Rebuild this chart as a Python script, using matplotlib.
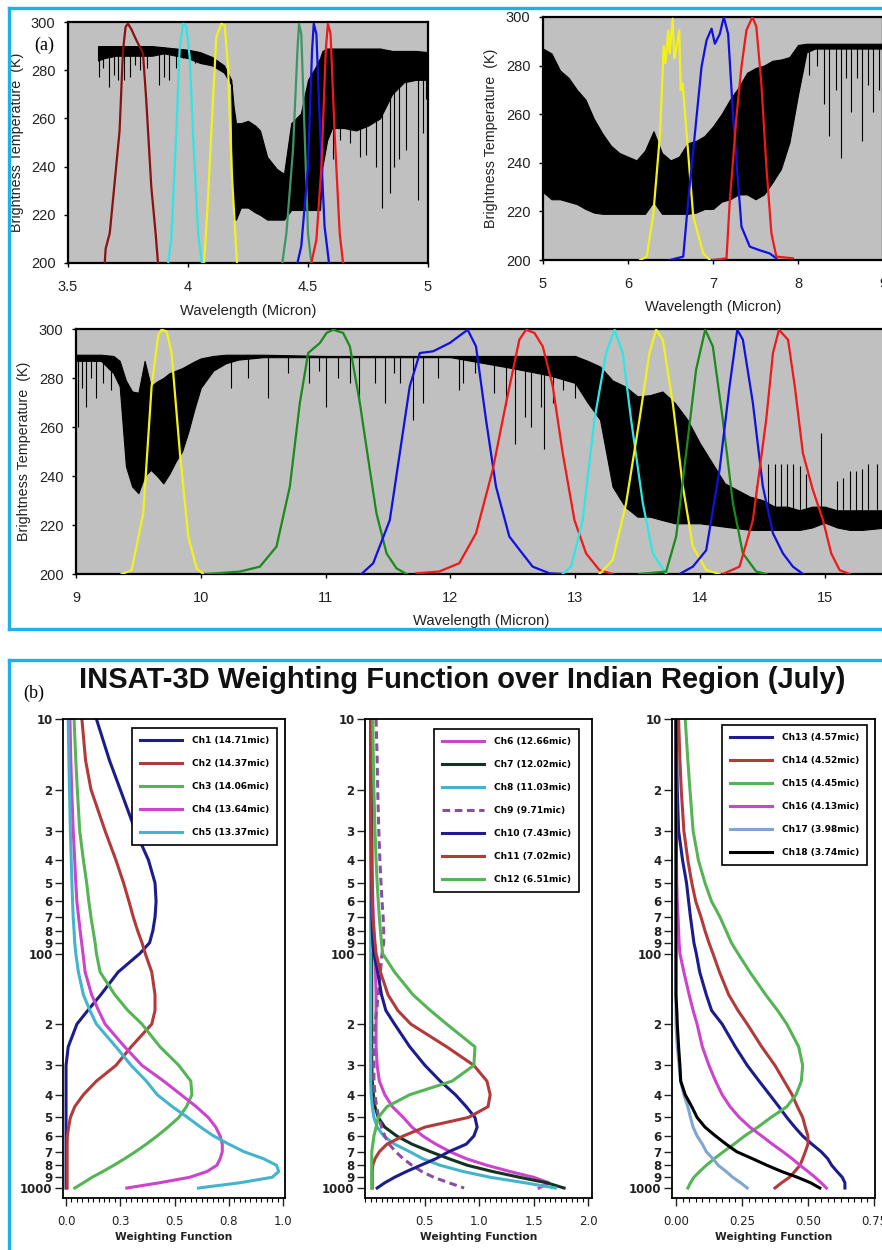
import numpy as np
import matplotlib

matplotlib.use("Agg")
import matplotlib.pyplot as plt
from matplotlib.lines import Line2D
from matplotlib.ticker import FixedLocator, MultipleLocator, NullLocator

plt.rcParams["font.family"] = ["Liberation Sans", "DejaVu Sans"]

W, H = 882, 1250

# ---------------- (a) brightness temperature spectra ----------------
a1_wl = [3.625, 3.65, 3.7, 3.75, 3.8, 3.85, 3.9, 3.95, 4.0, 4.05, 4.1, 4.15, 4.18, 4.19,
         4.2, 4.22, 4.25, 4.28, 4.3, 4.33, 4.37, 4.4, 4.43, 4.47, 4.5, 4.53, 4.55, 4.56,
         4.58, 4.6, 4.65, 4.7, 4.75, 4.8, 4.85, 4.9, 4.95, 5.0]
a1_hi = [290, 290, 290, 290, 290, 290, 289.5, 289, 288.5, 287.5, 285.5, 282, 276, 265,
         258, 258, 259, 257, 255, 244, 239, 237, 258, 262, 276, 281, 285, 288,
         289, 289, 289, 289, 289, 289, 288, 288, 288, 287.5]
a1_lo = [284, 285, 286, 286, 286, 286, 287, 286, 285, 283, 282, 279, 274, 218,
         218, 223, 223, 221, 220, 218, 218, 218, 222, 222, 222, 222, 222, 240,
         251, 256, 256, 255, 257, 260, 270, 275, 276, 276]
a1_dip_wl = [3.63, 3.645, 3.67, 3.69, 3.71, 3.735, 3.76, 3.78, 3.8, 3.83, 3.88, 3.9, 3.92,
             3.95, 3.98, 4.03, 4.06, 4.1, 4.604, 4.632, 4.674, 4.715, 4.743, 4.785, 4.81,
             4.84, 4.86, 4.88, 4.91, 4.958, 4.979, 4.99]
a1_dip_bt = [277, 281, 273, 278, 276, 276, 277, 282, 280, 281, 274, 277, 276,
             281, 285, 283, 284, 282, 243, 251, 250, 244, 245, 240, 223,
             229, 240, 243, 247, 226, 254, 268]

a2_wl = [5.0, 5.1, 5.2, 5.3, 5.4, 5.5, 5.6, 5.7, 5.8, 5.9, 6.0, 6.1, 6.2, 6.3, 6.4, 6.5,
         6.6, 6.7, 6.8, 6.9, 7.0, 7.1, 7.2, 7.3, 7.4, 7.5, 7.6, 7.7, 7.8, 7.9, 8.0, 8.1,
         8.2, 8.5, 9.0]
a2_hi = [287, 285, 278, 275, 270, 266, 258, 252, 247, 244, 242.5, 241, 245, 253, 244, 241,
         242.5, 248, 249, 251, 255, 260, 266, 271, 277, 279, 280, 282, 282.5, 283.5, 288.5, 289,
         289, 289, 289]
a2_lo = [228, 225, 225, 224, 223, 221, 219.5, 219, 219, 219, 219, 219, 219, 224, 219, 219,
         219, 219, 219.5, 221, 221, 224, 225, 227, 227, 225, 227, 232, 237.5, 248.5, 268, 285.5,
         287, 287, 287]
a2_dip_wl = [8.13, 8.22, 8.3, 8.37, 8.45, 8.5, 8.57, 8.62, 8.7, 8.75, 8.82, 8.88, 8.95]
a2_dip_bt = [276, 280, 264, 251, 270, 242, 275, 261, 275, 249, 272, 261, 270]

a3_wl = [9.0, 9.1, 9.2, 9.3, 9.35, 9.4, 9.45, 9.5, 9.55, 9.6, 9.65, 9.7, 9.75, 9.8, 9.85,
         9.9, 9.95, 10.0, 10.1, 10.2, 10.3, 10.5, 11.0, 11.5, 12.0, 12.5, 12.8, 13.0, 13.1,
         13.2, 13.3, 13.4, 13.5, 13.6, 13.7, 13.8, 13.9, 14.0, 14.1, 14.2, 14.3, 14.4, 14.5,
         14.6, 14.7, 14.8, 14.9, 15.0, 15.1, 15.2, 15.3, 15.5]
a3_hi = [289.5, 289.5, 289.5, 289, 287, 279, 274.5, 274, 287, 276.6, 278.6, 280, 282, 283, 284,
         285.4, 286.8, 288, 289, 289.5, 289.5, 289.5, 289, 289, 289, 289, 289, 289, 287,
         284.7, 279, 276.6, 272.5, 273, 274.5, 269.8, 263, 253.4, 245.2, 237, 234.3, 231.6, 230.2,
         227.5, 227.5, 226, 227.5, 227.5, 226, 226, 226, 226]
a3_lo = [287, 287, 287, 282, 276.6, 244, 235.7, 233, 240, 242.5, 240, 237, 241, 246, 250,
         258, 267.5, 276, 283, 286, 287.5, 288.5, 288.5, 288.5, 288.5, 284, 281, 278, 270,
         263, 235.7, 227.5, 223.4, 223.4, 222, 220.7, 220.7, 220.7, 220, 219.3, 218.7, 218, 218,
         218, 218, 218, 219, 221, 219, 218, 218, 219]
a3_dip_wl = [9.02, 9.05, 9.08, 9.12, 9.16, 9.22, 9.28, 10.24, 10.38, 10.54, 10.7, 10.87,
             10.95, 11.0, 11.1, 11.2, 11.27, 11.4, 11.48, 11.55, 11.6, 11.7, 11.78, 11.9,
             12.07, 12.1, 12.2, 12.35, 12.45, 12.52, 12.6, 12.65, 12.73, 12.75, 12.82, 12.9, 13.0]
a3_dip_bt = [260, 276, 268, 280, 272, 278, 275, 276, 280, 272, 282, 278,
             283, 268, 280, 278, 270, 278, 270, 282, 278, 263, 270, 280,
             275, 278, 282, 274, 269, 253, 264, 260, 268, 251, 270, 275, 272]
a3_peak_wl = [14.45, 14.55, 14.6, 14.65, 14.7, 14.75, 14.8, 14.85, 14.97, 15.1, 15.15,
              15.2, 15.25, 15.3, 15.35, 15.42]
a3_peak_bt = [236, 245, 245, 245, 245, 245, 244, 241, 257.5, 238, 239, 242, 242, 243, 245, 245]

# channel response curves, scaled onto the 200-300 K axis
srf_a1 = [
    ("#8b1010", [3.653, 3.657, 3.674, 3.694, 3.715, 3.729, 3.74, 3.75, 3.764, 3.785, 3.799,
                 3.8125, 3.826, 3.847, 3.865, 3.875],
                [200, 206, 212.4, 233, 255, 288, 298, 299.3, 297, 292.4, 289.7, 287, 267.6,
                 231.7, 212.4, 200]),
    ("#2ee6e6", [3.917, 3.93, 3.951, 3.965, 3.979, 3.993, 4.007, 4.021, 4.042, 4.058],
                [200, 209.7, 253.8, 288.3, 299.3, 298, 285.5, 253.8, 212.4, 200]),
    ("#f2f21a", [4.067, 4.083, 4.104, 4.118, 4.139, 4.153, 4.167, 4.181, 4.204],
                [200, 226, 267.6, 293.8, 299.3, 298.6, 281.4, 240, 200]),
    ("#3d9466", [4.393, 4.41, 4.4375, 4.456, 4.4625, 4.472, 4.486, 4.5, 4.514],
                [200, 212.4, 246.9, 288.3, 299.3, 295, 253.8, 212.4, 200]),
    ("#1010e0", [4.456, 4.472, 4.5, 4.517, 4.524, 4.535, 4.551, 4.569, 4.5875],
                [200, 207, 240, 288.3, 299.3, 295, 253.8, 215.2, 200]),
    ("#f01818", [4.514, 4.535, 4.556, 4.574, 4.583, 4.594, 4.611, 4.632, 4.646],
                [200, 209.7, 240, 288.3, 299.3, 295, 253.8, 212.4, 200]),
]
srf_a2 = [
    ("#f2f21a", [6.142, 6.22, 6.298, 6.377, 6.42, 6.44, 6.474, 6.49, 6.525, 6.545, 6.564,
                 6.603, 6.62, 6.643, 6.69, 6.767, 6.885, 6.963],
                [200, 201.4, 219, 252, 288, 281, 294.5, 285, 299.3, 283, 286.3,
                 294.5, 270, 272.6, 252, 218, 202.7, 200]),
    ("#1010e0", [6.494, 6.65, 6.709, 6.768, 6.826, 6.865, 6.924, 6.983, 7.022, 7.08, 7.127,
                 7.178, 7.237, 7.296, 7.335, 7.433, 7.55, 7.667, 7.745],
                [200, 201.4, 224.7, 245.2, 265.8, 279.5, 290.4, 295.2, 289, 293, 300,
                 293, 259, 231.5, 213.7, 205.5, 204, 202.7, 200.7]),
    ("#f01818", [7.0, 7.159, 7.198, 7.229, 7.276, 7.335, 7.393, 7.464, 7.51, 7.569, 7.628,
                 7.687, 7.745, 7.94],
                [200, 200.7, 224.7, 238, 259, 279.5, 294.5, 300, 296, 272.6, 238.4,
                 211, 201.4, 200.7]),
]
srf_a3 = [
    ("#f2f21a", [9.366, 9.446, 9.539, 9.606, 9.66, 9.686, 9.726, 9.766, 9.833, 9.9, 9.967, 10.02],
                [200, 201.6, 224.8, 276.6, 297.7, 299.7, 299, 290.2, 249.3, 215.3, 202.3, 200]),
    ("#1a8a1a", [10.047, 10.314, 10.474, 10.607, 10.714, 10.794, 10.861, 10.955, 11.008, 11.061,
                 11.141, 11.195, 11.275, 11.355, 11.408, 11.489, 11.569, 11.649],
                [200, 201, 203, 211.2, 235.7, 269.8, 290.2, 294.3, 298.4, 299.7,
                 298.4, 292.9, 269.8, 242.5, 224.8, 208.4, 202.3, 200]),
    ("#1010e0", [11.288, 11.382, 11.515, 11.595, 11.675, 11.756, 11.862, 11.996, 12.139, 12.206,
                 12.286, 12.366, 12.473, 12.553, 12.66, 12.794, 12.9],
                [200, 204.4, 222, 249.3, 276.6, 290.2, 290.9, 294.3, 299.7, 292.9,
                 263, 235.7, 215.3, 210, 203, 200.3, 200]),
    ("#f01818", [11.729, 11.91, 12.072, 12.206, 12.34, 12.447, 12.553, 12.607, 12.674, 12.741,
                 12.821, 12.901, 12.995, 13.088, 13.195, 13.3],
                [200.3, 201, 204.4, 216.6, 242.5, 269.8, 295.6, 299.7, 298.4, 292.9,
                 276.6, 249.3, 222, 208.4, 201.6, 200]),
    ("#2ee6e6", [12.9, 12.968, 13.061, 13.155, 13.249, 13.316, 13.382, 13.449, 13.543, 13.623, 13.73],
                [200, 203, 222, 263, 290.2, 299.7, 290.2, 263, 228.9, 208.4, 200]),
    ("#f2f21a", [13.195, 13.302, 13.409, 13.516, 13.596, 13.65, 13.703, 13.783, 13.864, 13.944,
                 14.051, 14.158],
                [200, 205.7, 228.9, 263, 290.2, 299.7, 295.6, 269.8, 235.7, 211.2, 201.6, 200]),
    ("#1a8a1a", [13.516, 13.73, 13.81, 13.89, 13.97, 14.043, 14.104, 14.184, 14.265, 14.345,
                 14.452, 14.532],
                [200, 201, 215.3, 249.3, 283.4, 299.7, 292.9, 263, 228.9, 208.4, 201, 200]),
    ("#1010e0", [13.837, 13.944, 14.051, 14.158, 14.238, 14.3, 14.345, 14.425, 14.505, 14.586,
                 14.666, 14.746, 14.826],
                [200, 203, 209.7, 242.5, 276.6, 299.7, 295.6, 269.8, 235.7, 216.6, 208.4, 203, 200]),
    ("#f01818", [14.184, 14.318, 14.425, 14.532, 14.586, 14.634, 14.707, 14.761, 14.826, 14.906,
                 14.987, 15.053, 15.12, 15.2],
                [200, 203, 222, 263, 290.2, 299.7, 295.6, 276.6, 249.3, 234.3, 222, 208.4, 201.6, 200]),
]

# ---------------- (b) weighting functions ----------------
p_hpa = [10, 15, 20, 30, 40, 50, 60, 70, 80, 90, 100, 120, 150, 175, 200, 250, 300, 350,
         400, 450, 500, 550, 600, 650, 700, 750, 800, 850, 900, 950, 1000]

ch1 = [0.14, 0.20, 0.25, 0.32, 0.38, 0.41, 0.415, 0.41, 0.40, 0.385, 0.34, 0.24, 0.16, 0.10, 0.05,
       0.01, 0.0, 0.0, 0.0, 0.0, 0.0, 0.0, 0.0, 0.0, 0.0, 0.0, 0.0, 0.0, 0.0, 0.0, 0.0]
ch2 = [0.073, 0.09, 0.115, 0.18, 0.23, 0.265, 0.29, 0.31, 0.33, 0.35, 0.365, 0.395, 0.41, 0.41,
       0.395, 0.30, 0.23, 0.14, 0.08, 0.04, 0.02, 0.012, 0.006, 0.005, 0.005, 0.005, 0.005, 0.005,
       0.005, 0.005, 0.005]
ch3 = [0.037, 0.045, 0.052, 0.063, 0.08, 0.095, 0.105, 0.115, 0.125, 0.134, 0.14, 0.157, 0.225,
       0.285, 0.35, 0.433, 0.52, 0.575, 0.58, 0.555, 0.52, 0.47, 0.42, 0.37, 0.32, 0.27, 0.22,
       0.17, 0.12, 0.08, 0.04]
ch4 = [0.018, 0.022, 0.026, 0.033, 0.04, 0.045, 0.05, 0.058, 0.065, 0.072, 0.078, 0.088, 0.118,
       0.15, 0.18, 0.27, 0.35, 0.45, 0.53, 0.60, 0.655, 0.69, 0.71, 0.72, 0.72, 0.71, 0.695, 0.65,
       0.57, 0.43, 0.28]
ch5 = [0.01, 0.013, 0.016, 0.02, 0.024, 0.027, 0.03, 0.033, 0.037, 0.04, 0.045, 0.057, 0.08, 0.11,
       0.14, 0.23, 0.30, 0.37, 0.42, 0.49, 0.56, 0.62, 0.68, 0.75, 0.82, 0.91, 0.97, 0.98, 0.95,
       0.80, 0.61]
ch6 = [0.005, 0.006, 0.008, 0.01, 0.012, 0.015, 0.02, 0.025, 0.03, 0.035, 0.04, 0.045, 0.05, 0.05,
       0.05, 0.05, 0.06, 0.08, 0.13, 0.2, 0.3, 0.38, 0.48, 0.6, 0.73, 0.88, 1.07, 1.28, 1.50, 1.64,
       1.55]
ch7 = [0.01, 0.01, 0.01, 0.01, 0.01, 0.01, 0.01, 0.01, 0.01, 0.01, 0.01, 0.01, 0.01, 0.01, 0.01,
       0.01, 0.01, 0.015, 0.025, 0.04, 0.07, 0.13, 0.24, 0.38, 0.55, 0.72, 0.89, 1.12, 1.37, 1.62,
       1.78]
ch8 = [0.0, 0.0, 0.0, 0.0, 0.0, 0.0, 0.0, 0.0, 0.0, 0.0, 0.0, 0.0, 0.0, 0.0, 0.0, 0.0, 0.0, 0.0,
       0.005, 0.015, 0.03, 0.06, 0.12, 0.22, 0.36, 0.48, 0.64, 0.85, 1.1, 1.42, 1.70]
ch9 = [0.05, 0.06, 0.065, 0.075, 0.085, 0.095, 0.105, 0.115, 0.12, 0.12, 0.105, 0.09, 0.07, 0.055,
       0.04, 0.03, 0.03, 0.03, 0.04, 0.055, 0.075, 0.1, 0.13, 0.17, 0.23, 0.3, 0.38, 0.47, 0.58,
       0.72, 0.86]
ch10 = [0.0, 0.0, 0.002, 0.004, 0.006, 0.008, 0.01, 0.012, 0.015, 0.02, 0.03, 0.065, 0.1, 0.14,
        0.22, 0.36, 0.5, 0.64, 0.78, 0.88, 0.96, 0.98, 0.95, 0.88, 0.72, 0.6, 0.46, 0.33, 0.22,
        0.13, 0.06]
ch11 = [0.0, 0.0, 0.002, 0.005, 0.008, 0.01, 0.015, 0.02, 0.03, 0.04, 0.05, 0.09, 0.16, 0.25,
        0.37, 0.7, 0.95, 1.07, 1.10, 1.08, 0.9, 0.5, 0.3, 0.15, 0.08, 0.04, 0.02, 0.015, 0.015,
        0.015, 0.015]
ch12 = [0.02, 0.025, 0.03, 0.04, 0.05, 0.06, 0.07, 0.08, 0.09, 0.1, 0.11, 0.22, 0.39, 0.55, 0.70,
        0.96, 0.95, 0.75, 0.36, 0.15, 0.07, 0.05, 0.03, 0.02, 0.01, 0.01, 0.01, 0.01, 0.01, 0.01,
        0.01]
ch13 = [0.0, 0.003, 0.005, 0.01, 0.025, 0.04, 0.048, 0.055, 0.062, 0.068, 0.077, 0.09, 0.115,
        0.135, 0.175, 0.225, 0.27, 0.315, 0.355, 0.39, 0.42, 0.45, 0.48, 0.515, 0.55, 0.575, 0.59,
        0.61, 0.63, 0.64, 0.64]
ch14 = [0.01, 0.015, 0.02, 0.03, 0.045, 0.06, 0.075, 0.095, 0.11, 0.125, 0.14, 0.165, 0.2, 0.235,
        0.27, 0.325, 0.375, 0.41, 0.44, 0.46, 0.48, 0.49, 0.50, 0.50, 0.49, 0.48, 0.47, 0.45, 0.43,
        0.40, 0.375]
ch15 = [0.035, 0.045, 0.053, 0.065, 0.085, 0.11, 0.135, 0.167, 0.19, 0.21, 0.235, 0.28, 0.34,
        0.385, 0.42, 0.465, 0.48, 0.475, 0.455, 0.42, 0.36, 0.31, 0.26, 0.22, 0.18, 0.145, 0.115,
        0.09, 0.068, 0.055, 0.045]
ch16 = [0.0, 0.0, 0.001, 0.002, 0.002, 0.003, 0.005, 0.008, 0.01, 0.012, 0.015, 0.03, 0.05,
        0.065, 0.08, 0.1, 0.125, 0.15, 0.175, 0.205, 0.24, 0.28, 0.325, 0.365, 0.405, 0.44, 0.47,
        0.5, 0.527, 0.55, 0.57]
ch17 = [0.0, 0.0, 0.0, 0.0, 0.0, 0.0, 0.0, 0.0, 0.0, 0.0, 0.0, 0.0, 0.0, 0.0, 0.0, 0.005, 0.012,
        0.018, 0.03, 0.045, 0.055, 0.065, 0.08, 0.1, 0.115, 0.14, 0.16, 0.19, 0.215, 0.245, 0.27]
ch18 = [0.0, 0.0, 0.0, 0.0, 0.0, 0.0, 0.0, 0.0, 0.0, 0.0, 0.0, 0.0, 0.0, 0.003, 0.005, 0.01,
        0.015, 0.018, 0.035, 0.06, 0.08, 0.11, 0.15, 0.19, 0.23, 0.29, 0.345, 0.40, 0.46, 0.51,
        0.545]

NAVY, BRICK, GREEN, MAG, CYAN = "#1c1c8c", "#b33a3a", "#55b555", "#cc44cc", "#44b4cc"
panel_b = [
    [("Ch1 (14.71mic)", ch1, NAVY, "-"), ("Ch2 (14.37mic)", ch2, BRICK, "-"),
     ("Ch3 (14.06mic)", ch3, GREEN, "-"), ("Ch4 (13.64mic)", ch4, MAG, "-"),
     ("Ch5 (13.37mic)", ch5, CYAN, "-")],
    [("Ch6 (12.66mic)", ch6, MAG, "-"), ("Ch7 (12.02mic)", ch7, "#143322", "-"),
     ("Ch8 (11.03mic)", ch8, CYAN, "-"), ("Ch9 (9.71mic)", ch9, "#8a4fa0", "--"),
     ("Ch10 (7.43mic)", ch10, NAVY, "-"), ("Ch11 (7.02mic)", ch11, BRICK, "-"),
     ("Ch12 (6.51mic)", ch12, GREEN, "-")],
    [("Ch13 (4.57mic)", ch13, NAVY, "-"), ("Ch14 (4.52mic)", ch14, BRICK, "-"),
     ("Ch15 (4.45mic)", ch15, GREEN, "-"), ("Ch16 (4.13mic)", ch16, MAG, "-"),
     ("Ch17 (3.98mic)", ch17, "#7fa6d0", "-"), ("Ch18 (3.74mic)", ch18, "black", "-")],
]

fig = plt.figure(figsize=(W / 100, H / 100), dpi=100)


def px_axes(l, t, r, b):
    return fig.add_axes([l / W, 1 - b / H, (r - l) / W, (b - t) / H])


def spectrum_axes(box, xlim, xticks, ylab_x, xlab_y, spec, dips, peaks, srfs):
    ax = px_axes(*box)
    ax.set_facecolor("#c0c0c0")
    wl, lo, hi = spec
    ax.fill_between(wl, lo, hi, color="black", linewidth=0.8, zorder=2)
    if dips:
        ax.vlines(dips[0], dips[1], np.interp(dips[0], wl, hi), color="black", lw=0.8, zorder=2)
    if peaks:
        ax.vlines(peaks[0], np.interp(peaks[0], wl, lo), peaks[1], color="black", lw=0.8, zorder=2)
    for c, x, y in srfs:
        ax.plot(x, y, color=c, lw=1.6, zorder=3)
    ax.set_xlim(*xlim)
    ax.set_ylim(200, 300)
    ax.set_xticks(xticks)
    ax.set_xticklabels(["%g" % v for v in xticks])
    ax.set_yticks([200, 220, 240, 260, 280, 300])
    ax.tick_params(direction="out", length=3, width=1, labelsize=10.5, labelcolor="#222222")
    ax.tick_params(axis="x", pad=9)
    ax.tick_params(axis="y", pad=6)
    for s in ax.spines.values():
        s.set_linewidth(1.6)
    ax.set_ylabel("Brightness Temperature  (K)", fontsize=10.3, color="#222222")
    ax.yaxis.set_label_coords(ylab_x, 0.5)
    ax.set_xlabel("Wavelength (Micron)", fontsize=10.6, color="#222222")
    ax.xaxis.set_label_coords(0.5, xlab_y)
    return ax


spectrum_axes((68, 22, 428, 263), (3.5, 5), [3.5, 4, 4.5, 5], -0.122, -0.17,
              (a1_wl, a1_lo, a1_hi), (a1_dip_wl, a1_dip_bt), None, srf_a1)
spectrum_axes((543, 17, 883, 260), (5, 9), [5, 6, 7, 8, 9], -0.132, -0.165,
              (a2_wl, a2_lo, a2_hi), (a2_dip_wl, a2_dip_bt), None, srf_a2)
spectrum_axes((76, 329, 887, 574), (9, 15.5), [9, 10, 11, 12, 13, 14, 15], -0.055, -0.163,
              (a3_wl, a3_lo, a3_hi), (a3_dip_wl, a3_dip_bt), (a3_peak_wl, a3_peak_bt), srf_a3)

# ---------------- (b) axes ----------------
ylab_vals = [10, 20, 30, 40, 50, 60, 70, 80, 90, 100, 200, 300, 400, 500, 600, 700, 800, 900, 1000]
ylab_txt = ["10", "2", "3", "4", "5", "6", "7", "8", "9", "100", "2", "3", "4", "5", "6", "7",
            "8", "9", "1000"]

b_boxes = [(63, 719, 285, 1198), (365, 719, 592, 1198), (672, 719, 875, 1198)]
b_xlims = [(-0.014, 1.009), (-0.052, 2.037), (-0.015, 0.754)]
b_major = [[0, 0.25, 0.5, 0.75, 1.0], [0.5, 1.0, 1.5, 2.0], [0, 0.25, 0.5, 0.75]]
b_major_txt = [["0.0", "0.3", "0.5", "0.8", "1.0"], ["0.5", "1.0", "1.5", "2.0"],
               ["0.00", "0.25", "0.50", "0.75"]]
b_minor = [0.025, 0.05, 0.025]
b_leg = [(0.964, 0.981), (0.943, 0.979), (0.96, 0.9875)]

for i, chans in enumerate(panel_b):
    ax = px_axes(*b_boxes[i])
    for lab, w, c, ls in chans:
        ax.plot(w, p_hpa, color=c, lw=2.2, ls=ls, label=lab,
                dashes=(2.5, 1.5) if ls == "--" else (None, None))
    ax.set_yscale("log")
    ax.set_ylim(1103, 10)
    ax.yaxis.set_major_locator(FixedLocator(ylab_vals))
    ax.yaxis.set_minor_locator(NullLocator())
    ax.set_yticklabels(ylab_txt, fontweight="bold", fontsize=8.5, family="DejaVu Sans")
    ax.set_xlim(*b_xlims[i])
    ax.set_xticks(b_major[i])
    ax.set_xticklabels(b_major_txt[i], fontsize=8.5, family="DejaVu Sans")
    ax.xaxis.set_minor_locator(MultipleLocator(b_minor[i]))
    ax.tick_params(axis="both", which="major", direction="out", length=5.5, width=1,
                   colors="#222222")
    ax.tick_params(axis="y", which="major", pad=2)
    ax.tick_params(axis="x", which="major", pad=7)
    ax.tick_params(axis="x", which="minor", direction="out", length=3, width=0.8)
    for s in ax.spines.values():
        s.set_linewidth(1.3)
    ax.set_xlabel("Weighting Function", fontsize=7.7, fontweight="bold", color="#222222",
                  family="DejaVu Sans")
    ax.xaxis.set_label_coords(0.5, -0.071)
    leg = ax.legend(loc="upper right", bbox_to_anchor=b_leg[i], borderaxespad=0,
                    fancybox=False, edgecolor="black", framealpha=1, handlelength=4.6,
                    labelspacing=1.55, prop={"weight": "bold", "size": 6.5, "family": "DejaVu Sans"},
                    borderpad=0.9, handletextpad=1.1)
    leg.get_frame().set_linewidth(1.2)

# ---------------- frames and captions ----------------
BLUE = "#1ab2ec"
for xs, ys in [([9, 9], [8, 629]), ([9, 890], [8, 8]), ([9, 890], [629, 629]),
               ([9, 9], [660, 1260]), ([9, 890], [660, 660])]:
    fig.add_artist(Line2D([x / W for x in xs], [1 - y / H for y in ys], color=BLUE, lw=2.4))

fig.text(44 / W, 1 - 45 / H, "(a)", family="Liberation Serif", fontsize=13, ha="center", va="center")
fig.text(34 / W, 1 - 693 / H, "(b)", family="Liberation Serif", fontsize=13, ha="center", va="center")
fig.text(462 / W, 1 - 680 / H, "INSAT-3D Weighting Function over Indian Region (July)",
         fontsize=21, fontweight="bold", ha="center", va="center", color="#111111")

fig.savefig("out.png", dpi=100)
